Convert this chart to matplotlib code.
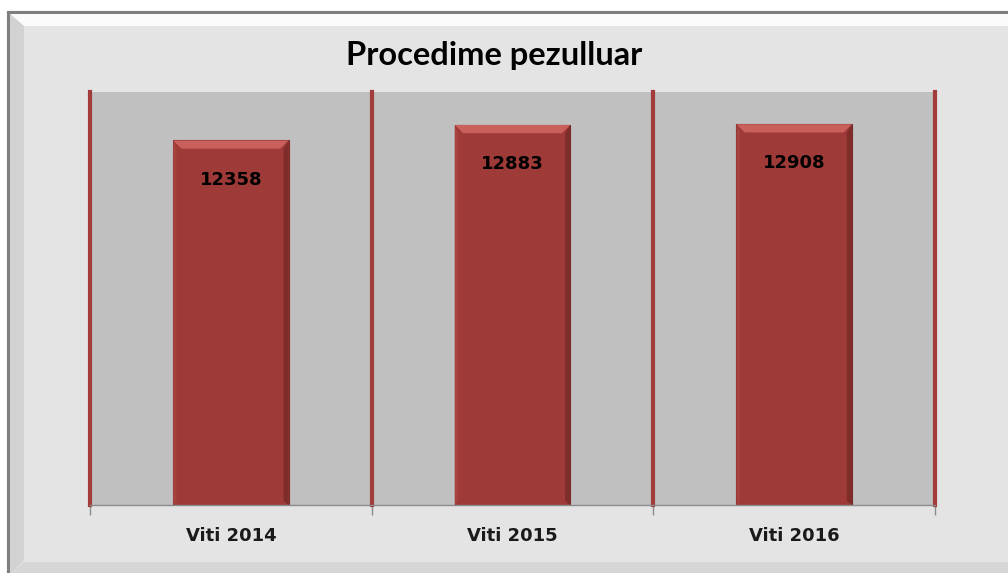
import matplotlib
matplotlib.use("Agg")
import matplotlib.pyplot as plt
from matplotlib.patches import Rectangle, Polygon
from matplotlib.font_manager import FontProperties
import numpy as np

categories = ["Viti 2014", "Viti 2015", "Viti 2016"]
values = [12358, 12883, 12908]
title = "Procedime pezulluar"

W, H = 1008, 573
fig = plt.figure(figsize=(W / 100, H / 100), dpi=100)
fig.patch.set_facecolor("white")

def fx(px):
    return px / W

def fy(py):
    return 1 - py / H

lab_fp = FontProperties(family="DejaVu Sans", weight="bold", size=13)
title_fp = FontProperties(family="Lato", weight="bold", size=23.5)

# outer frame
fig.patches.append(Rectangle((fx(9), fy(600)), fx(1100), fy(13) - fy(600),
                             transform=fig.transFigure, facecolor="#e4e4e4",
                             edgecolor="#7f7f7f", linewidth=3, zorder=-3))
# bevel: top light band
fig.patches.append(Polygon([(fx(10), fy(14)), (fx(1010), fy(14)), (fx(1010), fy(26)), (fx(24), fy(26))],
                           closed=True, transform=fig.transFigure, facecolor="#fbfbfb",
                           edgecolor="none", zorder=-2))
# bevel: left darker band
fig.patches.append(Polygon([(fx(10), fy(14)), (fx(24), fy(26)), (fx(24), fy(560)), (fx(10), fy(575))],
                           closed=True, transform=fig.transFigure, facecolor="#d2d2d2",
                           edgecolor="none", zorder=-2))
# bevel: bottom band
fig.patches.append(Polygon([(fx(10), fy(575)), (fx(24), fy(562)), (fx(1010), fy(562)), (fx(1010), fy(575))],
                           closed=True, transform=fig.transFigure, facecolor="#d6d6d6",
                           edgecolor="none", zorder=-2))

ax = fig.add_axes([fx(90), fy(505), fx(935) - fx(90), fy(92) - fy(505)])
ax.set_zorder(2)
ax.set_facecolor("#c0c0c0")
ax.set_xlim(-0.5, 2.5)
ax.set_ylim(0, 14000)

x = np.arange(len(categories))
bw = 0.41
bars = ax.bar(x, values, width=bw, color="#9e3b39", edgecolor="#7a2b2a",
              linewidth=0.8, zorder=3)

# bevel effects on bars (derived from bar geometry)
dx = 0.03
dy = 280
for b in bars:
    x0, w, h = b.get_x(), b.get_width(), b.get_height()
    ax.add_patch(Polygon([(x0, h), (x0 + w, h), (x0 + w - dx, h - dy), (x0 + dx, h - dy)],
                         closed=True, facecolor="#c9605c", edgecolor="none", zorder=4))
    ax.add_patch(Polygon([(x0 + w, h), (x0 + w, 0), (x0 + w - dx * 0.6, dy * 0.5), (x0 + w - dx * 0.6, h - dy)],
                         closed=True, facecolor="#7e2d2b", edgecolor="none", zorder=4))
    ax.add_patch(Polygon([(x0, h), (x0, 0), (x0 + dx * 0.4, dy * 0.5), (x0 + dx * 0.4, h - dy)],
                         closed=True, facecolor="#a8423f", edgecolor="none", zorder=4))
    ax.text(b.get_x() + w / 2, h - 1330, f"{int(h)}", ha="center", va="center",
            fontproperties=lab_fp, color="black", zorder=5)

# category separators
for s in np.arange(-0.5, len(categories), 1.0):
    ax.axvline(s, color="#a23c3a", linewidth=3, zorder=2, clip_on=False)

for sp in ["top", "left", "right"]:
    ax.spines[sp].set_visible(False)
ax.spines["bottom"].set_color("#8c8c8c")
ax.spines["bottom"].set_linewidth(1)
ax.spines["bottom"].set_zorder(6)

ax.set_yticks([])
ax.set_xticks(np.arange(-0.5, len(categories), 1.0), minor=False)
ax.set_xticklabels([])
ax.tick_params(axis="x", length=7, color="#8c8c8c", width=1)
ax.set_xticks(x, minor=True)
ax.set_xticklabels(categories, minor=True, color="#1a1a1a")
for t in ax.get_xticklabels(minor=True):
    t.set_fontproperties(lab_fp)
ax.tick_params(axis="x", which="minor", length=0, pad=16)

fig.text(fx(494), fy(55), title, ha="center", va="center",
         fontproperties=title_fp, color="black")

fig.savefig("out.png", dpi=100, facecolor=fig.get_facecolor())
